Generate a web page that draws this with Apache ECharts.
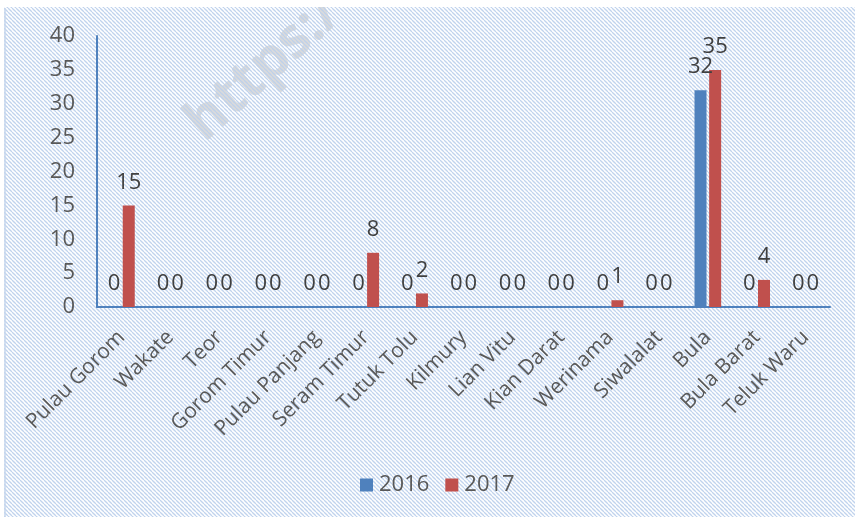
<!DOCTYPE html>
<html><head><meta charset="utf-8">
<script src="https://cdn.jsdelivr.net/npm/echarts@6/dist/echarts.min.js"></script>
<style>html,body{margin:0;padding:0;background:#fff}#c{width:855px;height:517px}</style>
</head><body><div id="c"></div>
<script>
const categories = ['Pulau Gorom','Wakate','Teor','Gorom Timur','Pulau Panjang','Seram Timur','Tutuk Tolu','Kilmury','Lian Vitu','Kian Darat','Werinama','Siwalalat','Bula','Bula Barat','Teluk Waru'];
const values2016 = [0,0,0,0,0,0,0,0,0,0,0,0,32,0,0];
const values2017 = [15,0,0,0,0,8,2,0,0,0,1,0,35,4,0];
const yTicks = [0,5,10,15,20,25,30,35,40];

const pc = document.createElement('canvas');
pc.width = 4; pc.height = 4;
const g = pc.getContext('2d');
g.strokeStyle = 'rgba(185,206,235,0.9)'; g.lineWidth = 1.3;
for (let k=-4;k<=8;k+=4){ g.beginPath(); g.moveTo(k,0); g.lineTo(k+4,4); g.stroke(); }

const chart = echarts.init(document.getElementById('c'), null, {renderer:'canvas'});
const font = '"Open Sans", sans-serif';
chart.setOption({
  backgroundColor: '#ffffff',
  animation: false,
  graphic: [
    {type:'text', z:-12, x:264, y:68, rotation:Math.PI*42/180, style:{text:'https:/', font:'bold 56px "Open Sans", sans-serif', fill:'rgba(200,200,200,0.65)', align:'center', verticalAlign:'middle'}},
    {type:'rect', z:-10, shape:{x:0,y:0,width:855,height:7}, style:{fill:'#ffffff'}},
    {type:'rect', z:-9, shape:{x:4,y:7,width:851,height:510}, style:{fill:{image:pc, repeat:'repeat'}}},
    {type:'line', z:-8, shape:{x1:5,y1:8,x2:5,y2:517}, style:{stroke:'#c6d6ec', lineWidth:1.5}}
  ],
  grid: {left:97, right:25, top:36, bottom:210},
  legend: {
    data:['2016','2017'], top:469, left:355, itemWidth:13, itemHeight:13, itemGap:16,
    textStyle:{fontFamily:font, fontSize:22, color:'#595959', padding:[0,0,0,1]}, icon:'rect'
  },
  xAxis: {
    type:'category', data:categories,
    axisLine:{lineStyle:{color:'#4f81bd', width:2}},
    axisTick:{show:false},
    axisLabel:{rotate:45, interval:0, fontFamily:font, fontSize:21, color:'#595959', margin:27}
  },
  yAxis: {
    type:'value', min:0, max:40, interval:5,
    axisLine:{show:true, lineStyle:{color:'#4f81bd', width:2}},
    axisTick:{show:false}, splitLine:{show:false},
    axisLabel:{fontFamily:font, fontSize:22, color:'#595959', margin:22,
      formatter: v => yTicks.includes(v) ? String(v) : ''}
  },
  series: [
    {name:'2016', type:'bar', data:values2016, barWidth:12, barGap:'22%',
     itemStyle:{color:'#4f81bd'},
     label:{show:true, position:'top', distance:12, fontFamily:font, fontSize:22, color:'#404040'}},
    {name:'2017', type:'bar', data:values2017, barWidth:12,
     itemStyle:{color:'#c0504d'},
     label:{show:true, position:'top', distance:12, fontFamily:font, fontSize:22, color:'#404040'}}
  ]
});
</script></body></html>
